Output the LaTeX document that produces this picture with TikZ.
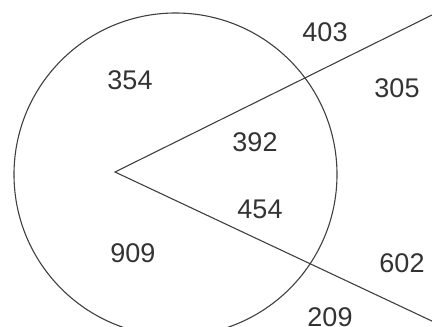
\documentclass[tikz,border=0pt]{standalone}
\usepackage{fontspec}
\setmainfont{Liberation Sans}
\usetikzlibrary{positioning}

\begin{document}
\begin{tikzpicture}[x=1pt, y=-1pt, every node/.style={font=\fontsize{27}{27}\selectfont, text=black!80}]
    \useasboundingbox (0,0) rectangle (432,327);
    \clip (0,0) rectangle (432,327);

    % Circle
    \coordinate (centre) at (175.5,174.5);
    \draw[black!75, line width=1.1pt] (centre) circle (161.5);

    % Rays from the vertex
    \coordinate (vertex) at (115,172);
    \coordinate (upper) at (434,14);
    \coordinate (lower) at (434,322);
    \draw[black!75, line width=1.1pt] (upper) -- (vertex) -- (lower);

    % Region counts
    \foreach \x/\y/\n in {325/32/403, 130/80/354, 397/88/305, 255/142/392,
                          260/209/454, 133/253/909, 402/263/602, 330/317/209} {
        \node (n\n) at (\x,\y) {\n};
    }
\end{tikzpicture}
\end{document}
